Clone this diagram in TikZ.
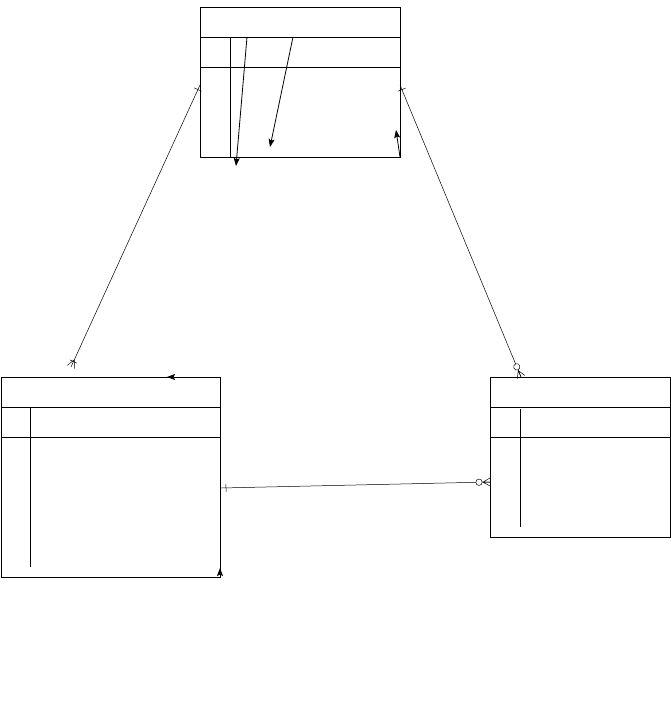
\documentclass[tikz,border=0pt]{standalone}
\usepackage{tikz}
\usetikzlibrary{arrows,arrows.meta}
\usetikzlibrary{positioning}
\usetikzlibrary{decorations.markings}

\begin{document}
\begin{tikzpicture}[x=1pt,y=-1pt,line width=0.8pt,
  every node/.style={draw,rectangle,inner sep=0pt,outer sep=0pt},
  rel/.style={line width=0.5pt},
  tip/.style={-{Stealth[length=8pt,width=6pt,inset=1.5pt]}},
  onestart/.style={postaction={decorate,decoration={markings,
    mark=at position 5pt with {\draw[line width=0.5pt] (0,-4) -- (0,4);}}}},
  manyend/.style={postaction={decorate,decoration={markings,
    mark=at position -6pt with {\draw[line width=0.5pt] (0,-4) -- (0,4);},
    mark=at position 1 with {\draw[line width=0.5pt] (-8,0) -- (0,-4) (-8,0) -- (0,4);}}}},
  zeromanyend/.style={postaction={decorate,decoration={markings,
    mark=at position -11pt with {\draw[line width=0.5pt,fill=white] (0,0) circle (3.2);},
    mark=at position 1 with {\draw[line width=0.5pt] (-7,0) -- (0,-4) (-7,0) -- (0,4) (-7,0) -- (0,0);}}}}]
  \useasboundingbox (0,0) rectangle (671,706);

  \node[minimum width=200pt,minimum height=150pt] (t1) at (300,82){};
  \node[minimum width=219pt,minimum height=200pt] (t2) at (110.5,477){};
  \node[minimum width=180pt,minimum height=160pt] (t3) at (580,457){};

  % header and key rows
  \draw (t1.north west) ++(0,30) coordinate (t1a) -- (t1a -| t1.east);
  \draw (t1.north west) ++(0,60) coordinate (t1b) -- (t1b -| t1.east);
  \draw (t1.north west) ++(30,30) -- ++(0,120);
  \draw (t2.north west) ++(0,30) coordinate (t2a) -- (t2a -| t2.east);
  \draw (t2.north west) ++(0,60) coordinate (t2b) -- (t2b -| t2.east);
  \draw (t2.north west) ++(29,30) -- ++(0,160);
  \draw (t3.north west) ++(0,30) coordinate (t3a) -- (t3a -| t3.east);
  \draw (t3.north west) ++(0,60) coordinate (t3b) -- (t3b -| t3.east);
  \draw (t3.north west) ++(30,32) -- ++(0,118);

  % stray arrows
  \draw[tip] (t1.north west) ++(47,30) -- ++(-11,129);
  \draw[tip] (t1.north west) ++(93,30) -- ++(-23,110);
  \draw[tip] (t1.south east) -- ++(-4,-27);
  \draw[tip] (t2.north east) -- ++(-53,0);
  \draw[tip] (t2.south east) -- ++(0,-9);

  % relations
  \coordinate (c1) at (200,85);
  \coordinate (c2) at (71,367);
  \coordinate (c3) at (400,85);
  \coordinate (c4) at (521,377);
  \coordinate (c5) at (221,488);
  \coordinate (c6) at (490,482);
  \draw[rel,onestart,manyend](c1)--(c2);
  \draw[rel,onestart,zeromanyend](c3)--(c4);
  \draw[rel,onestart,zeromanyend](c5)--(c6);
\end{tikzpicture}
\end{document}
